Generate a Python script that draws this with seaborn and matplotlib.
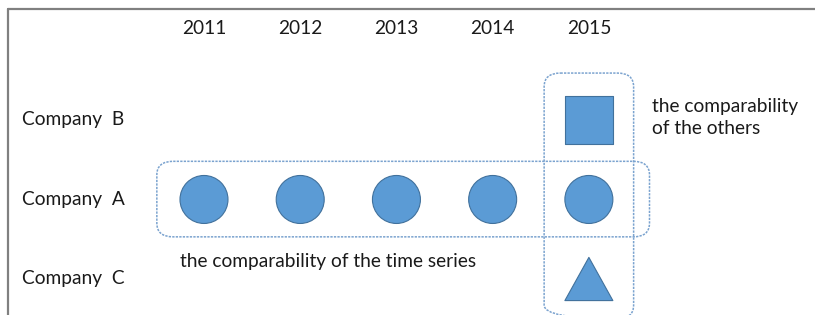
import matplotlib
matplotlib.use("Agg")
import matplotlib.pyplot as plt
from matplotlib.patches import FancyBboxPatch
from matplotlib.path import Path
from matplotlib.lines import Line2D
import pandas as pd
import seaborn as sns

# --- data ---
years = [2011, 2012, 2013, 2014, 2015]
companies = ["Company  B", "Company  A", "Company  C"]
point_company = ["Company  A"] * 5 + ["Company  B", "Company  C"]
point_year = [2011, 2012, 2013, 2014, 2015, 2015, 2015]
note_others = "the comparability\nof the others"
note_series = "the comparability of the time series"

FILL = "#5B9BD5"
EDGE = "#41719C"
BOX = "#7BA3CF"
TXT = "#1a1a1a"
FS = 13.8

sns.set_theme(style="white")
plt.rcParams["font.family"] = ["Lato", "DejaVu Sans"]

row_of = {c: i for i, c in enumerate(companies)}
df = pd.DataFrame({"company": point_company, "year": point_year})
df["row"] = df["company"].map(row_of)

fig = plt.figure(figsize=(8.15, 3.15), dpi=100)
ax = fig.add_axes([0, 0, 1, 1])

triangle = Path([(0, 0.9), (-1, -0.9), (1, -0.9), (0, 0.9)], closed=True)
markers = {"Company  A": "o", "Company  B": "s", "Company  C": triangle}

sns.scatterplot(data=df, x="year", y="row", style="company", markers=markers,
                s=1194, color=FILL, edgecolor=EDGE, linewidth=0.8,
                legend=False, ax=ax, zorder=3)

ax.set_xlim(2008.88, 2017.35)
ax.set_ylim(2.453, -1.509)
ax.set_axis_off()

# year header
for yr in years:
    ax.text(yr, -1.145, str(yr), ha="center", va="center", fontsize=FS, color=TXT)

# company labels
for c in companies:
    ax.text(2009.11, row_of[c], c, ha="left", va="center", fontsize=FS, color=TXT)

# dashed rounded boxes
ra = row_of["Company  A"]
rb = row_of["Company  B"]
rc = row_of["Company  C"]
box_kw = dict(boxstyle="round,pad=0,rounding_size=0.17", mutation_aspect=96.25 / 79.5 * 0.83,
              fill=False, edgecolor=BOX, linewidth=1.1, linestyle=(0, (1.5, 0.8)), zorder=2)
hbox = FancyBboxPatch((years[0] - 0.49, ra - 0.48), (years[-1] + 0.63) - (years[0] - 0.49), 0.95, **box_kw)
vbox = FancyBboxPatch((years[-1] - 0.465, rb - 0.59), 0.93, (rc + 0.5) - (rb - 0.59), **box_kw)
ax.add_patch(hbox)
ax.add_patch(vbox)

# notes
ax.text(years[-1] + 0.655, rb - 0.03, note_others, ha="left", va="center",
        fontsize=FS, linespacing=1.3, color=TXT)
ax.text(years[0] - 0.25, 1.786, note_series, ha="left", va="center",
        fontsize=FS, color=TXT)

# outer frame (left and top edges only visible)
fig.add_artist(Line2D([8 / 815, 8 / 815], [0, 1 - 9 / 315], transform=fig.transFigure,
                      color="#808080", linewidth=1.6))
fig.add_artist(Line2D([8 / 815, 1], [1 - 9 / 315, 1 - 9 / 315], transform=fig.transFigure,
                      color="#808080", linewidth=1.6))

fig.savefig("out.png", dpi=100, facecolor="white")
